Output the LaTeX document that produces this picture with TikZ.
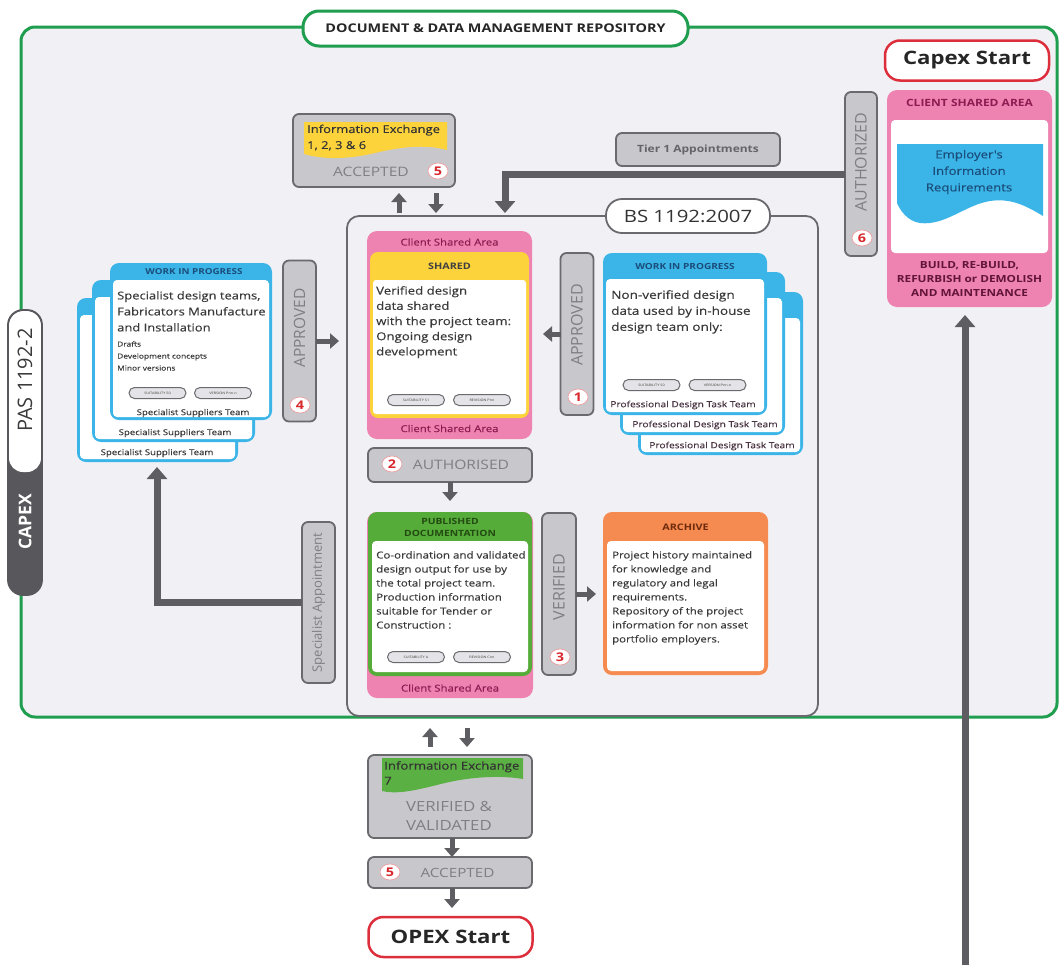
\documentclass[tikz,border=0pt]{standalone}
\usepackage{fontspec}
\setmainfont{Open Sans}[FakeStretch=1.2]
\newfontfamily\medf{Open Sans}[FakeStretch=1.2,FakeBold=0.25]
\newfontfamily\rotfont{Open Sans}
\usetikzlibrary{arrows.meta,shapes.geometric}
\definecolor{bgc}{HTML}{F1F1F5}
\definecolor{grn}{HTML}{1E9E4E}
\definecolor{gfill}{HTML}{C8C8CC}
\definecolor{gline}{HTML}{6A6A6E}
\definecolor{gtext}{HTML}{7E7E83}
\definecolor{darr}{HTML}{5E5E62}
\definecolor{pnk}{HTML}{EE82B0}
\definecolor{pnkt}{HTML}{8C1C52}
\definecolor{ylw}{HTML}{FDD33C}
\definecolor{blu}{HTML}{3BB5E8}
\definecolor{blut}{HTML}{1B4D7A}
\definecolor{pgrn}{HTML}{55AC38}
\definecolor{pgrnt}{HTML}{234A12}
\definecolor{org}{HTML}{F58B50}
\definecolor{orgt}{HTML}{6E2A0C}
\definecolor{redb}{HTML}{DD2E3C}
\definecolor{txt}{HTML}{3A3A3A}
\definecolor{numr}{HTML}{D8282E}
\definecolor{pasd}{HTML}{58585C}
\definecolor{pillc}{HTML}{E4E4E8}
\definecolor{grnw}{HTML}{5BB043}
\definecolor{teamc}{HTML}{4A3442}
\newcommand\fsz[2]{\fontsize{#1}{#2}\selectfont}
\newcommand\mycard[7]{%
  \node[box, fill=#7, rounded corners=9pt, minimum width=#4pt, minimum height=#5pt] (#1) at (#2,#3) {};
  \fill[white, rounded corners=4pt] ([xshift=3pt,yshift=-#6pt]#1.north west) rectangle ([xshift=-3pt,yshift=3pt]#1.south east);}
\begin{document}
\begin{tikzpicture}[x=1pt,y=-1pt,
  box/.style={rectangle,inner sep=0pt,outer sep=0pt},
  gbox/.style={box,draw=gline,fill=gfill,line width=1.8pt,rounded corners=6pt},
  num/.style={ellipse,fill=white,draw=numr!45,line width=0.7pt,inner sep=0pt,minimum width=20pt,minimum height=16pt,text=numr,font=\bfseries\fsz{12}{12}},
  smarr/.style={draw=darr,line width=5pt,-{Triangle[length=9pt,width=15pt]}},
  bigarr/.style={draw=darr,line width=7pt,-{Triangle[length=12pt,width=20pt]}},
  pill/.style={box,draw=gline,fill=pillc,line width=1pt,rounded corners=5.5pt,minimum width=57pt,minimum height=11pt,font=\fsz{3.2}{4},text=txt},
  vlab/.style={rotate=90,inner sep=0pt,text=gtext,font=\rotfont\fsz{16}{16}},
  glab/.style={inner sep=0pt,text=gtext,font=\fsz{13}{13}},
  startbox/.style={box,draw=redb,fill=white,line width=2.5pt,rounded corners=15pt,minimum width=164pt,minimum height=40pt,font=\bfseries\fsz{18.5}{19},text=black!85},
  body/.style={anchor=north west,align=left,inner sep=0pt,text=txt},
  ctext/.style={inner sep=0pt,align=center},
]
\useasboundingbox (0,0) rectangle (1059,964);
\fill[white] (0,0) rectangle (1059,964);
% repository frame
\node[box, draw=grn, line width=3pt, fill=bgc, rounded corners=14pt, minimum width=1036pt, minimum height=690pt] (repo) at (539,372) {};
\node[box, draw=grn, line width=3pt, fill=white, rounded corners=16pt, minimum width=385pt, minimum height=35pt, font=\bfseries\fsz{12}{13}, text=black!85] (title) at (495.5,28.5) {DOCUMENT \& DATA MANAGEMENT REPOSITORY};
% PAS pill
\node[box, fill=pasd, rounded corners=15pt, minimum width=34pt, minimum height=285pt] (pas) at (25,452.5) {};
\fill[white, rounded corners=14pt] (9,311) rectangle (41,472);
\draw[pasd, line width=1.8pt, rounded corners=15pt] (pas.north west) rectangle (pas.south east);
\node[rotate=90, inner sep=0pt, font=\rotfont\fsz{20}{20}, text=txt] (pastx) at (25,380) {PAS 1192-2};
\node[rotate=90, inner sep=0pt, font=\rotfont\bfseries\fsz{17.5}{18}, text=white] (capx) at (25,522) {CAPEX};
% Capex start and client shared area
\node[startbox] (capex) at (967,60.5) {Capex Start};
\node[box, fill=pnk, rounded corners=10pt, minimum width=165pt, minimum height=217pt] (csa) at (969.5,198.5) {};
\fill[white, rounded corners=4pt] (891,120) rectangle (1048,253);
\fill[blu] (897,144) -- (1043,144) -- (1043,216) .. controls (1025,205) and (1010,198) .. (990,201) .. controls (965,205) and (945,226) .. (920,223) .. controls (907,221) and (900,210) .. (897,203) -- cycle;
\node[ctext, font=\bfseries\fsz{10}{10}, text=pnkt] (csat) at (969.5,103) {CLIENT SHARED AREA};
\node[ctext, font=\medf\fsz{11}{16.5}, text=blut] (eir) at (969,172) {Employer's\\Information\\Requirements};
\node[ctext, font=\bfseries\fsz{9.8}{14}, text=pnkt!70!black] (build) at (969.5,279) {BUILD, RE-BUILD,\\REFURBISH or DEMOLISH\\AND MAINTENANCE};
% authorized 6 and tier 1
\node[gbox, minimum width=32pt, minimum height=164pt] (auth6) at (861,174) {};
\node[vlab] (auth6t) at (861,162) {AUTHORIZED};
\node[num] (n6) at (862,238) {6};
\node[gbox, minimum width=164pt, minimum height=33pt, font=\bfseries\fsz{10}{11}, text=gtext!80!black] (tier1) at (698,149.5) {Tier 1 Appointments};
% BS container
\node[box, draw=gline, line width=1.8pt, rounded corners=12pt, minimum width=471pt, minimum height=500pt] (bs) at (582.5,466) {};
\node[box, draw=gline, line width=1.8pt, fill=white, rounded corners=16pt, minimum width=164pt, minimum height=34pt, font=\fsz{17}{17}, text=black!80] (bslab) at (688,216) {BS 1192:2007};
\coordinate (t1) at (505,213);
\draw[bigarr] (auth6.west) -| (t1);
% information exchange 1,2,3 & 6
\node[gbox, minimum width=162pt, minimum height=73pt] (ie1) at (374,150.5) {};
\fill[ylw] (304,122) -- (447,122) -- (447,150) .. controls (425,144) and (400,147) .. (375,153) .. controls (350,159) and (325,160) .. (304,154) -- cycle;
\node[body, font=\medf\fsz{10.8}{16}, text=black!80] (ie1t) at (307,124.5) {Information Exchange\\1, 2, 3 \& 6};
\node[glab] (ie1a) at (371,172) {ACCEPTED};
\node[num] (n5a) at (438,171) {5};
\coordinate (ua) at (399,0);
\coordinate (da) at (436,0);
\draw[smarr, shorten <=3pt, shorten >=6pt] (bs.north -| ua) -- (ie1.south -| ua);
\draw[smarr, shorten <=6pt, shorten >=3pt] (ie1.south -| da) -- (bs.north -| da);
% shared
\node[box, fill=pnk, rounded corners=10pt, minimum width=165pt, minimum height=208pt] (shared) at (449.5,335) {};
\node[box, fill=ylw, rounded corners=8pt, minimum width=159pt, minimum height=166pt] (sharedy) at (449.5,335) {};
\fill[white, rounded corners=3pt] (373,280) rectangle (526,414);
\node[ctext, font=\medf\fsz{9.5}{10}, text=pnkt] (csa1) at (449.5,242) {Client Shared Area};
\node[ctext, font=\medf\fsz{9.5}{10}, text=pnkt] (csa2) at (449.5,428.5) {Client Shared Area};
\node[ctext, font=\bfseries\fsz{9}{10}, text=black!75] (shh) at (449.5,266) {SHARED};
\node[body, font=\medf\fsz{11}{15.2}] (sht) at (376,286) {Verified design\\data shared\\with the project team:\\Ongoing design\\development};
\node[pill] (p1) at (416,400) {SUITABILITY S1};
\node[pill] (p2) at (482,400) {REVISION Pnn};
% approved 1
\node[gbox, minimum width=33pt, minimum height=162pt] (ap1) at (577,334) {};
\node[vlab] (ap1t) at (577,325) {APPROVED};
\node[num] (n1) at (578,397) {1};
\draw[smarr, shorten >=11pt] (ap1.west) -- (shared.east |- ap1.west);
% right WIP stack
\mycard{wipR3}{720.5}{373.5}{165}{163}{26}{blu}
\mycard{wipR2}{702.5}{353.5}{165}{163}{26}{blu}
\mycard{wipR1}{685}{334}{164}{162}{26}{blu}
\node[ctext, font=\bfseries\fsz{8.4}{9}, text=blut] (wrh) at (685,266) {WORK IN PROGRESS};
\node[body, font=\medf\fsz{11.3}{16}] (wrt) at (611,290) {Non-verified design\\data used by in-house\\design team only:};
\node[pill] (p3) at (651.5,385) {SUITABILITY S0};
\node[pill] (p4) at (717.5,385) {VERSION Pnn.n};
\node[ctext, font=\medf\fsz{8.5}{9}, text=teamc] (pt1) at (683,405) {Professional Design Task Team};
\node[ctext, font=\medf\fsz{8.5}{9}, text=teamc] (pt2) at (705,425) {Professional Design Task Team};
\node[ctext, font=\medf\fsz{8.5}{9}, text=teamc] (pt3) at (722,446) {Professional Design Task Team};
% left WIP stack
\mycard{wipL3}{157.5}{380}{161}{164}{17}{blu}
\mycard{wipL2}{173.5}{361}{163}{162}{17}{blu}
\mycard{wipL1}{191}{341.5}{162}{157}{17}{blu}
\node[ctext, font=\bfseries\fsz{8.2}{9}, text=blut] (wlh) at (194,272) {WORK IN PROGRESS};
\node[body, font=\medf\fsz{10.8}{16}] (wlt) at (117,291) {Specialist design teams,\\Fabricators Manufacture\\and Installation};
\node[body, font=\medf\fsz{7}{12}] (wls) at (117,341) {Drafts\\Development concepts\\Minor versions};
\node[pill] (p5) at (157.5,393) {SUITABILITY S0};
\node[pill] (p6) at (223,393) {VERSION Pnn.n};
\node[ctext, font=\medf\fsz{8}{9}, text=txt] (st1) at (193,413) {Specialist Suppliers Team};
\node[ctext, font=\medf\fsz{8}{9}, text=txt] (st2) at (175,433) {Specialist Suppliers Team};
\node[ctext, font=\medf\fsz{8}{9}, text=txt] (st3) at (157,453) {Specialist Suppliers Team};
% approved 4
\node[gbox, minimum width=33pt, minimum height=161pt] (ap4) at (299.5,341) {};
\node[vlab, font=\rotfont\fsz{15.5}{16}] (ap4t) at (299.5,328) {APPROVED};
\node[num] (n4) at (300,405) {4};
\draw[smarr, shorten >=8pt] (ap4.east) -- (bs.west |- ap4.east);
% authorised 2
\node[gbox, minimum width=164pt, minimum height=34pt] (auth2) at (450,465) {};
\node[glab] (auth2t) at (461,465) {AUTHORISED};
\node[num] (n2) at (392,464) {2};
% published documentation
\node[box, fill=pnk, rounded corners=10pt, minimum width=166pt, minimum height=186pt] (pubp) at (450,605) {};
\node[box, fill=pgrn, rounded corners=9pt, minimum width=164pt, minimum height=164pt] (pub) at (450,594) {};
\fill[white, rounded corners=4pt] (372,541) rectangle (528,672);
\node[ctext, font=\bfseries\fsz{8.6}{12.5}, text=pgrnt] (pubh) at (450,527.5) {PUBLISHED\\DOCUMENTATION};
\node[body, font=\medf\fsz{9.6}{14}] (pubt) at (376,551) {Co-ordination and validated\\design output for use by\\the total project team.\\Production information\\suitable for Tender or\\Construction :};
\node[pill] (p7) at (416,657) {SUITABILITY A};
\node[pill] (p8) at (482,657) {REVISION Cnn};
\node[ctext, font=\medf\fsz{9.5}{10}, text=pnkt] (csa3) at (450,688) {Client Shared Area};
\draw[smarr, shorten >=11pt] (auth2.south) -- (pub.north);
% archive
\node[box, fill=org, rounded corners=9pt, minimum width=165pt, minimum height=163pt] (arch) at (685.5,593.5) {};
\fill[white, rounded corners=4pt] (607,541) rectangle (764,671);
\node[ctext, font=\bfseries\fsz{9}{10}, text=orgt] (archh) at (685.5,527) {ARCHIVE};
\node[body, font=\medf\fsz{9.5}{14}] (archt) at (612,551) {Project history maintained\\for knowledge and\\regulatory and legal\\requirements.\\Repository of the project\\information for non asset\\portfolio employers.};
% verified 3
\node[gbox, minimum width=34pt, minimum height=162pt] (ver3) at (559,594) {};
\node[vlab] (ver3t) at (559,587) {VERIFIED};
\node[num] (n3) at (560,657) {3};
\draw[smarr, shorten >=7pt] (ver3.east) -- (arch.west |- ver3.east);
% specialist appointment
\node[gbox, minimum width=33pt, minimum height=161pt] (spec) at (318.5,602.5) {};
\node[vlab, font=\rotfont\fsz{13}{13}] (spect) at (318.5,602.5) {Specialist Appointment};
\coordinate (sp) at (157,0);
\draw[bigarr, shorten >=5pt] (spec.west) -| (wipL3.south -| sp);
% bottom chain
\node[gbox, minimum width=164pt, minimum height=83pt] (ie7) at (450,796.5) {};
\fill[grnw] (382,758) -- (523,758) -- (523,779) .. controls (500,775) and (470,777) .. (445,783) .. controls (420,789) and (400,795) .. (382,791) -- cycle;
\node[body, font=\medf\fsz{11}{15}, text=black!80] (ie7t) at (384,761) {Information Exchange\\7};
\node[ctext, font=\fsz{14}{18.5}, text=gtext] (ie7v) at (449,816) {VERIFIED \&\\VALIDATED};
\coordinate (ub) at (430,0);
\coordinate (db) at (467,0);
\coordinate (ex) at (452,0);
\draw[smarr, shorten <=8pt, shorten >=12pt] (ie7.north -| ub) -- (bs.south -| ub);
\draw[smarr, shorten <=12pt, shorten >=8pt] (bs.south -| db) -- (ie7.north -| db);
\node[gbox, minimum width=164pt, minimum height=31pt] (acc) at (450,872.5) {};
\node[glab, font=\fsz{12.7}{13}] (acct) at (457.5,872.5) {ACCEPTED};
\node[num] (n5b) at (390,872) {5};
\node[startbox] (opex) at (450.5,937) {OPEX Start};
\draw[smarr] (ie7.south -| ex) -- (acc.north -| ex);
\draw[smarr, shorten >=9pt] (acc.south -| ex) -- (opex.north -| ex);
% right long arrow
\coordinate (rb) at (965,975);
\draw[bigarr, shorten >=8pt] (rb) -- (csa.south -| rb);
\end{tikzpicture}
\end{document}
